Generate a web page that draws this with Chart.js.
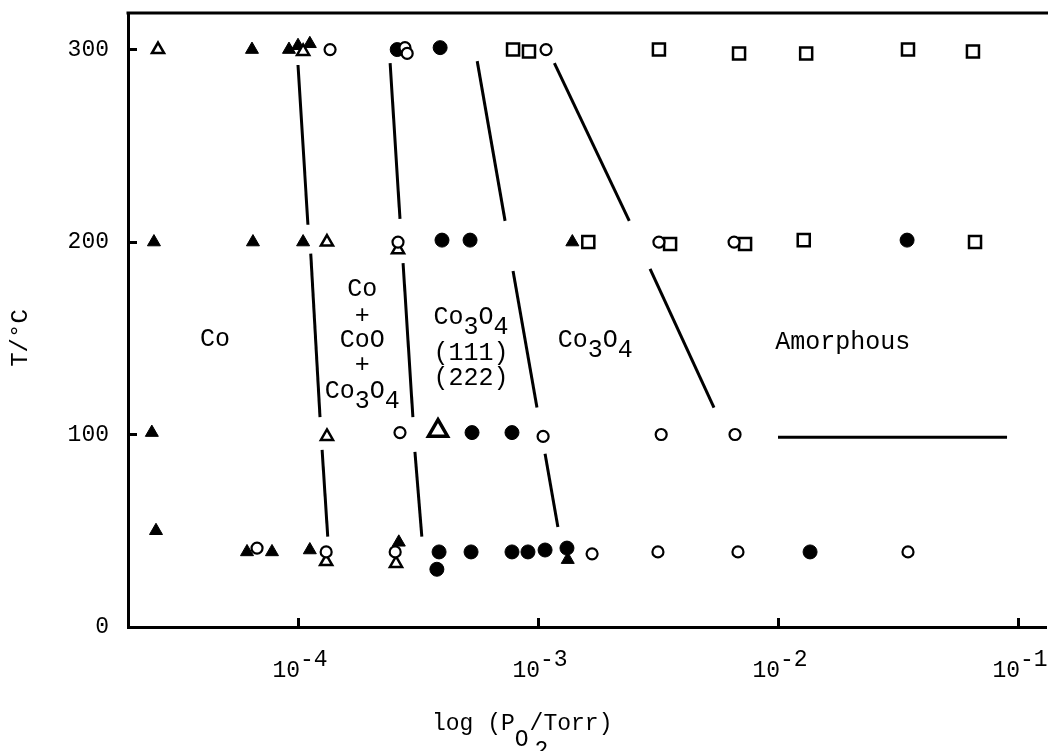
<!DOCTYPE html>
<html>
<head>
<meta charset="utf-8">
<script src="https://cdn.jsdelivr.net/npm/chart.js@4"></script>
<style>
  html, body { margin: 0; padding: 0; background: #fff; overflow: hidden; }
  canvas { display: block; }
</style>
</head>
<body>
<canvas id="chart" width="1048" height="751"></canvas>
<script>
// O2 pressure (Torr) and substrate temperature (°C), one pair of arrays per marker
const filledTriP = [6.43e-5, 9.17e-5, 1.00e-4, 1.12e-4, 2.51e-5, 6.49e-5, 1.05e-4, 1.39e-3, 2.46e-5, 2.56e-5, 6.13e-5, 7.79e-5, 1.12e-4, 2.63e-4, 1.33e-3];
const filledTriT = [300, 300, 302, 303, 200, 200, 200, 200, 101, 50, 39, 39, 40, 44, 35];

const openTriP = [2.61e-5, 1.05e-4, 1.32e-4, 2.61e-4, 1.32e-4, 1.31e-4, 2.56e-4];
const openTriT = [300, 299, 200, 196, 99, 34, 33];

const bigTriP = [3.83e-4];
const bigTriT = [102];

const openCircleP = [1.36e-4, 2.79e-4, 2.85e-4, 1.08e-3, 2.61e-4, 3.19e-3, 6.56e-3, 2.66e-4, 1.05e-3, 3.26e-3, 6.62e-3, 6.75e-5, 1.31e-4, 2.54e-4, 1.68e-3, 3.16e-3, 6.81e-3, 3.48e-2];
const openCircleT = [300, 301, 298, 300, 200, 200, 200, 101, 99, 100, 100, 41, 39, 39, 38, 39, 39, 39];

const filledCircleP = [2.59e-4, 3.91e-4, 3.98e-4, 5.21e-4, 3.45e-2, 5.31e-4, 7.79e-4, 3.87e-4, 3.79e-4, 5.26e-4, 7.79e-4, 9.08e-4, 1.07e-3, 1.32e-3, 1.36e-2];
const filledCircleT = [300, 301, 201, 201, 201, 101, 101, 39, 30, 39, 39, 39, 40, 41, 39];

const openSquareP = [7.87e-4, 9.17e-4, 3.19e-3, 6.88e-3, 1.31e-2, 3.48e-2, 6.49e-2, 1.62e-3, 3.55e-3, 7.29e-3, 1.28e-2, 6.62e-2];
const openSquareT = [300, 299, 300, 298, 298, 300, 299, 200, 199, 199, 201, 200];

// phase boundary segments (start, end)
const boundaryP = [
  [1.00e-4, 1.10e-4], [1.13e-4, 1.235e-4], [1.26e-4, 1.33e-4],
  [2.42e-4, 2.66e-4], [2.74e-4, 3.01e-4], [3.07e-4, 3.28e-4],
  [5.58e-4, 7.29e-4], [7.87e-4, 9.90e-4], [1.07e-3, 1.21e-3],
  [1.17e-3, 2.40e-3], [2.93e-3, 5.41e-3],
  [1.00e-2, 9.00e-2]
];
const boundaryT = [
  [292, 209], [194, 109], [92, 47],
  [293, 212], [189, 109], [91, 47],
  [294, 211], [185, 114], [90, 52],
  [293, 211], [186, 114],
  [98.6, 98.6]
];

const pressureTicks = [1e-4, 1e-3, 1e-2, 1e-1];
const tempTicks = [0, 100, 200, 300];
const pressureMin = 1.957e-5;
const pressureMax = 0.1308;
const tempMax = 319;

// '_' puts the next character in subscript
const regionLabels = [
  { p: 4.51e-5, t: 149.5, text: 'Co' },
  { p: 1.85e-4, t: 175.4, text: 'Co' },
  { p: 1.85e-4, t: 161.4, text: '+' },
  { p: 1.85e-4, t: 149, text: 'CoO' },
  { p: 1.85e-4, t: 136, text: '+' },
  { p: 1.85e-4, t: 122.5, text: 'Co_3O_4' },
  { p: 5.26e-4, t: 160.9, text: 'Co_3O_4' },
  { p: 5.26e-4, t: 142.2, text: '(111)' },
  { p: 5.26e-4, t: 129.2, text: '(222)' },
  { p: 1.73e-3, t: 149, text: 'Co_3O_4' },
  { p: 1.86e-2, t: 148, text: 'Amorphous' }
];

const FONT = "'Liberation Mono', 'DejaVu Sans Mono', monospace";
Chart.defaults.font.family = FONT;
Chart.defaults.color = '#000';

function points(ps, ts) {
  return ps.map((p, i) => ({ x: p, y: ts[i] }));
}

function markers(ps, ts, style, radius, filled, width) {
  return {
    data: points(ps, ts),
    pointStyle: style,
    pointRadius: radius,
    pointBackgroundColor: filled ? '#000' : '#fff',
    pointBorderColor: '#000',
    pointBorderWidth: width
  };
}

const boundaryLines = boundaryP.map((ps, i) => ({
  data: points(ps, boundaryT[i]),
  showLine: true,
  pointRadius: 0,
  borderColor: '#000',
  borderWidth: 3
}));

function drawMarked(ctx, text, cx, cy, subDy) {
  const cw = ctx.measureText('M').width;
  const parts = [];
  for (let i = 0; i < text.length; i++) {
    if (text[i] === '_') { parts.push([text[i + 1], subDy]); i++; }
    else parts.push([text[i], 0]);
  }
  const x0 = cx - parts.length * cw / 2;
  parts.forEach(([ch, dy], i) => ctx.fillText(ch, x0 + i * cw, cy + dy));
}

// tick label padding would otherwise shrink the plot area
function noScalePadding(s) {
  s.paddingTop = 0;
  s.paddingBottom = 0;
  s.paddingLeft = 0;
  s.paddingRight = 0;
}

const frameAndText = {
  id: 'frameAndText',
  afterDraw(chart) {
    const { ctx, chartArea: a, scales: { x, y } } = chart;
    ctx.save();
    // top border of the frame
    ctx.strokeStyle = '#000';
    ctx.lineWidth = 3;
    ctx.beginPath();
    ctx.moveTo(a.left - 1.5, a.top);
    ctx.lineTo(chart.width, a.top);
    ctx.stroke();

    ctx.fillStyle = '#000';
    ctx.textAlign = 'left';
    ctx.textBaseline = 'middle';

    // region names
    ctx.font = '25px ' + FONT;
    regionLabels.forEach(l => {
      drawMarked(ctx, l.text, x.getPixelForValue(l.p), y.getPixelForValue(l.t), 10);
    });

    // x title: log (P_O2 / Torr)
    ctx.font = '23px ' + FONT;
    const cw = ctx.measureText('M').width;
    const tx = 432, ty = 724;
    ctx.fillText('log (P', tx, ty);
    ctx.fillText('O', tx + 6 * cw, ty + 16);
    ctx.fillText('2', tx + 7 * cw + 6, ty + 27);
    ctx.fillText('/Torr)', tx + 7 * cw + 1, ty);

    // y title
    ctx.font = '24px ' + FONT;
    ctx.translate(21, 338);
    ctx.rotate(-Math.PI / 2);
    ctx.textAlign = 'center';
    ctx.fillText('T/°C', 0, 0);
    ctx.restore();
  }
};

new Chart(document.getElementById('chart'), {
  type: 'scatter',
  data: {
    datasets: [
      markers(openCircleP, openCircleT, 'circle', 5.5, false, 2.2),
      markers(openSquareP, openSquareT, 'rect', 8.5, false, 2.5),
      markers(openTriP, openTriT, 'triangle', 7, false, 2.5),
      markers(bigTriP, bigTriT, 'triangle', 11, false, 3.5),
      markers(filledCircleP, filledCircleT, 'circle', 7, true, 1),
      markers(filledTriP, filledTriT, 'triangle', 7.5, true, 1),
      ...boundaryLines
    ]
  },
  options: {
    responsive: false,
    animation: false,
    devicePixelRatio: 1,
    layout: { autoPadding: false, padding: { top: 13, right: 2, left: 0, bottom: 0 } },
    plugins: { legend: { display: false }, tooltip: { enabled: false } },
    scales: {
      x: {
        type: 'logarithmic',
        min: pressureMin,
        max: pressureMax,
        bounds: 'data',
        afterBuildTicks: s => { s.ticks = pressureTicks.map(v => ({ value: v })); },
        afterFit: s => { s.height = 124; noScalePadding(s); },
        border: { display: true, color: '#000', width: 3 },
        grid: { display: true, drawOnChartArea: false, drawTicks: true, tickLength: -9, tickWidth: 3, tickColor: '#000' },
        ticks: {
          color: '#000',
          font: { size: 23, lineHeight: 0.45 },
          padding: 37,
          labelOffset: 2,
          maxRotation: 0,
          autoSkip: false,
          callback: v => ['  ' + Math.round(Math.log10(v)), '10  ']
        }
      },
      y: {
        min: 0,
        max: tempMax,
        afterBuildTicks: s => { s.ticks = tempTicks.map(v => ({ value: v })); },
        afterFit: s => { s.width = 128; noScalePadding(s); },
        border: { display: true, color: '#000', width: 3 },
        grid: { display: true, drawOnChartArea: false, drawTicks: true, tickLength: -9, tickWidth: 3, tickColor: '#000' },
        ticks: { color: '#000', font: { size: 23, lineHeight: 1 }, padding: 28 }
      }
    }
  },
  plugins: [frameAndText]
});
</script>
</body>
</html>
